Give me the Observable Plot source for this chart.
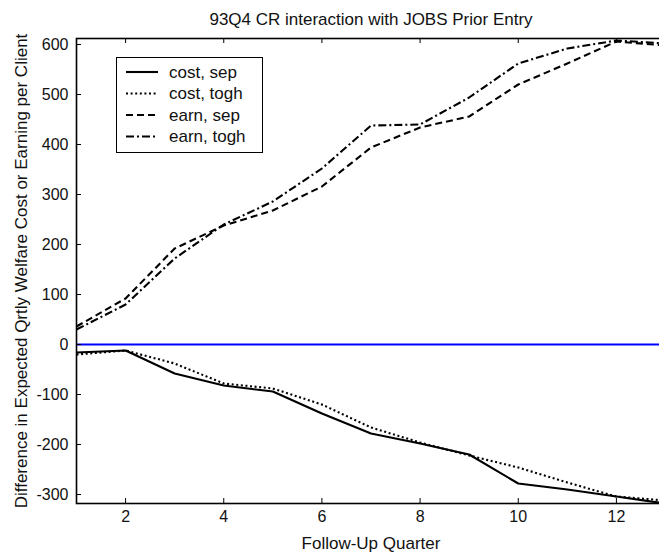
<!DOCTYPE html>
<html>
<head>
<meta charset="utf-8">
<script src="https://cdn.jsdelivr.net/npm/d3@7"></script>
<script src="https://cdn.jsdelivr.net/npm/@observablehq/plot@0.6"></script>
<style>
  html, body { margin: 0; padding: 0; background: #fff; overflow: hidden; }
  #wrap { position: relative; width: 659px; height: 553px; }
  #wrap svg.plot { max-width: none; }
  #legend { position: absolute; left: 116px; top: 57px; }
</style>
</head>
<body>
<div id="wrap"></div>
<script>
// ---- data ----
const quarters  = [1, 2, 3, 4, 5, 6, 7, 8, 9, 10, 11, 12, 13];
const costSep   = [-16, -12, -58, -82, -94, -138, -178, -198, -220, -278, -290, -304, -318];
const costTogh  = [-20, -12, -38, -78, -88, -120, -166, -196, -222, -246, -276, -304, -312];
const earnSep   = [36, 92, 192, 238, 268, 316, 394, 434, 456, 520, 562, 606, 598];
const earnTogh  = [30, 80, 172, 240, 286, 352, 438, 440, 494, 562, 592, 608, 602];
const seriesNames = ["cost, sep", "cost, togh", "earn, sep", "earn, togh"];
const xTicks = [2, 4, 6, 8, 10, 12];
const yTicks = [-300, -200, -100, 0, 100, 200, 300, 400, 500, 600];
const titleText = "93Q4 CR interaction with JOBS Prior Entry";
const xLabel = "Follow-Up Quarter";
const yLabel = "Difference in Expected Qrtly Welfare Cost or Earning per Client";

const seriesValues = [costSep, costTogh, earnSep, earnTogh];
const dashes = [null, "2,2.6", "7,4", "8,3,2,3"];
const rows = seriesNames.flatMap((name, s) =>
  quarters.map((q, i) => ({series: name, q, v: seriesValues[s][i]})));

const W = 659, H = 553, mL = 76, mR = -6, mT = 38, mB = 50;
const pw = W - mL - mR, ph = H - mT - mB;
const FONT = "'Liberation Sans', Arial, Helvetica, sans-serif";

const lineMarks = seriesNames.map((name, s) =>
  Plot.line(rows.filter(d => d.series === name), {
    x: "q", y: "v", stroke: "#000", strokeWidth: 2.1,
    strokeDasharray: dashes[s], strokeLinejoin: "round", strokeLinecap: "butt"
  }));

const chart = Plot.plot({
  width: W, height: H,
  marginLeft: mL, marginRight: mR, marginTop: mT, marginBottom: mB,
  style: {fontFamily: FONT, fontSize: "16px", color: "#111", background: "#fff", overflow: "hidden"},
  x: {domain: [1, 13], axis: null},
  y: {domain: [-318, 612], axis: null},
  marks: [
    ...lineMarks,
    Plot.ruleY([0], {stroke: "#0000ff", strokeWidth: 2}),
    // inward ticks
    Plot.ruleY(yTicks, {stroke: "#000", strokeWidth: 1, insetRight: pw - 5}),
    Plot.ruleX(xTicks, {stroke: "#000", strokeWidth: 1, insetTop: ph - 5}),
    Plot.ruleX(xTicks, {stroke: "#000", strokeWidth: 1, insetBottom: ph - 5}),
    Plot.frame({stroke: "#000", strokeWidth: 1.6}),
    Plot.axisX({ticks: xTicks, tickSize: 0, tickPadding: 7, label: null, tickFormat: d => String(d), fontSize: 16}),
    Plot.axisY({ticks: yTicks, tickSize: 0, tickPadding: 8, label: null, tickFormat: d => String(d), fontSize: 16}),
    Plot.text([titleText], {frameAnchor: "top", textAnchor: "middle", lineAnchor: "middle", dy: -19, fontSize: 17, fill: "#111"}),
    Plot.text([xLabel], {frameAnchor: "bottom", textAnchor: "middle", lineAnchor: "middle", dy: 40, fontSize: 17, fill: "#111"}),
    Plot.text([yLabel], {frameAnchor: "left", textAnchor: "middle", lineAnchor: "middle", rotate: -90, dx: -55, fontSize: 17, fill: "#111"})
  ]
});
document.getElementById("wrap").appendChild(chart);

// ---- legend (overlay) ----
const lg = d3.select("#wrap").append("svg").attr("id", "legend")
  .attr("width", 147).attr("height", 96)
  .style("font-family", FONT).style("font-size", "17px");
lg.append("rect").attr("x", 0.5).attr("y", 0.5).attr("width", 146).attr("height", 95)
  .attr("fill", "#fff").attr("stroke", "#000").attr("stroke-width", 1);
const rowY = [15, 36.5, 58, 79.5];
seriesNames.forEach((name, s) => {
  lg.append("line").attr("x1", 10).attr("x2", 42).attr("y1", rowY[s]).attr("y2", rowY[s])
    .attr("stroke", "#000").attr("stroke-width", 2.1)
    .attr("stroke-dasharray", dashes[s]);
  lg.append("text").attr("x", 53).attr("y", rowY[s]).attr("dy", "0.35em")
    .attr("fill", "#111").text(name);
});
</script>
</body>
</html>
